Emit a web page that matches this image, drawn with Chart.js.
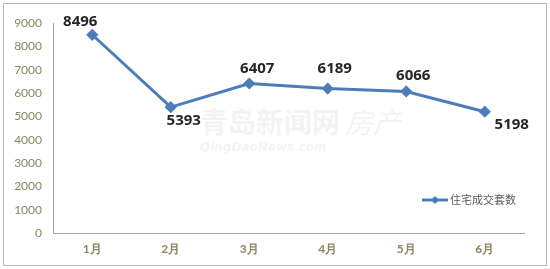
<!DOCTYPE html>
<html>
<head>
<meta charset="utf-8">
<script src="https://cdn.jsdelivr.net/npm/chart.js@4/dist/chart.umd.min.js"></script>
<style>
  html, body { margin: 0; padding: 0; background: #fff; }
  #wrap { width: 550px; height: 269px; }
</style>
</head>
<body>
<div id="wrap"><canvas id="myChart"></canvas></div>
<script>
// donnees
const months = ['1月', '2月', '3月', '4月', '5月', '6月'];
const sales = [8496, 5393, 6407, 6189, 6066, 5198];
const seriesName = '住宅成交套数';
const yMax = 9000;
const yStep = 1000;

const blue = '#4a7ebb';
const tickColor = '#8a8660';

// etiquettes au-dessus / en dessous de chaque point
const labelShift = [[-12, -13], [13, 14], [8, -15], [7, -20], [7, -16], [27, 13]];

const extras = {
  id: 'extras',
  beforeDraw(chart) {
    const ctx = chart.ctx;
    ctx.save();
    ctx.fillStyle = '#fff';
    ctx.fillRect(0, 0, chart.width, chart.height);
    ctx.strokeStyle = '#b8b8b8';
    ctx.lineWidth = 1;
    ctx.strokeRect(3.5, 3.5, 543, 262);
    // filigrane
    ctx.fillStyle = 'rgba(215,215,215,0.3)';
    ctx.font = 'bold 28px "Noto Sans CJK SC"';
    ctx.textBaseline = 'middle';
    ctx.fillText('青岛新闻网', 200, 122);
    ctx.font = 'italic 28px "Noto Sans CJK SC"';
    ctx.fillText('房产', 345, 122);
    ctx.font = 'italic bold 12px "DejaVu Sans"';
    ctx.fillText('QingDaoNews.com', 200, 148);
    ctx.restore();
  },
  afterDatasetsDraw(chart) {
    const ctx = chart.ctx;
    const meta = chart.getDatasetMeta(0);
    ctx.save();
    ctx.font = 'bold 15px "Open Sans"';
    ctx.fillStyle = '#262626';
    ctx.textAlign = 'center';
    ctx.textBaseline = 'middle';
    meta.data.forEach((pt, i) => {
      ctx.fillText(String(sales[i]), pt.x + labelShift[i][0], pt.y + labelShift[i][1]);
    });
    // legende
    const lx = 422, ly = 200;
    ctx.strokeStyle = blue;
    ctx.lineWidth = 3;
    ctx.beginPath();
    ctx.moveTo(lx, ly);
    ctx.lineTo(lx + 26, ly);
    ctx.stroke();
    ctx.fillStyle = blue;
    ctx.beginPath();
    ctx.moveTo(lx + 13, ly - 4);
    ctx.lineTo(lx + 17, ly);
    ctx.lineTo(lx + 13, ly + 4);
    ctx.lineTo(lx + 9, ly);
    ctx.closePath();
    ctx.fill();
    ctx.fillStyle = '#595959';
    ctx.font = '11px "Noto Sans CJK SC"';
    ctx.textAlign = 'left';
    ctx.fillText(seriesName, lx + 28, ly);
    ctx.restore();
  }
};

const config = {
  type: 'line',
  data: {
    labels: months,
    datasets: [{
      label: seriesName,
      data: sales,
      borderColor: blue,
      backgroundColor: blue,
      borderWidth: 3,
      pointStyle: 'rectRot',
      pointRadius: 4,
      pointHoverRadius: 4,
      tension: 0,
      fill: false
    }]
  },
  options: {
    responsive: true,
    maintainAspectRatio: false,
    animation: false,
    layout: { padding: { left: 0, right: 26, top: 23, bottom: 0 } },
    plugins: {
      legend: { display: false },
      tooltip: { enabled: false }
    },
    scales: {
      x: {
        offset: true,
        grid: { display: false, drawTicks: false },
        border: { display: true, color: '#a6a6a6', width: 1 },
        ticks: {
          color: tickColor,
          font: { family: 'Lato', size: 12, weight: 'bold' },
          padding: 9
        },
        afterFit(scale) { scale.height = 36; }
      },
      y: {
        min: 0,
        max: yMax,
        grid: { display: false, drawTicks: false },
        border: { display: true, color: '#a6a6a6', width: 1 },
        ticks: {
          stepSize: yStep,
          color: tickColor,
          font: { family: 'Lato', size: 12 },
          padding: 11,
          callback: (v) => String(v)
        },
        afterFit(scale) { scale.width = 53; }
      }
    }
  },
  plugins: [extras]
};

const myChart = new Chart(document.getElementById('myChart'), config);
</script>
</body>
</html>
